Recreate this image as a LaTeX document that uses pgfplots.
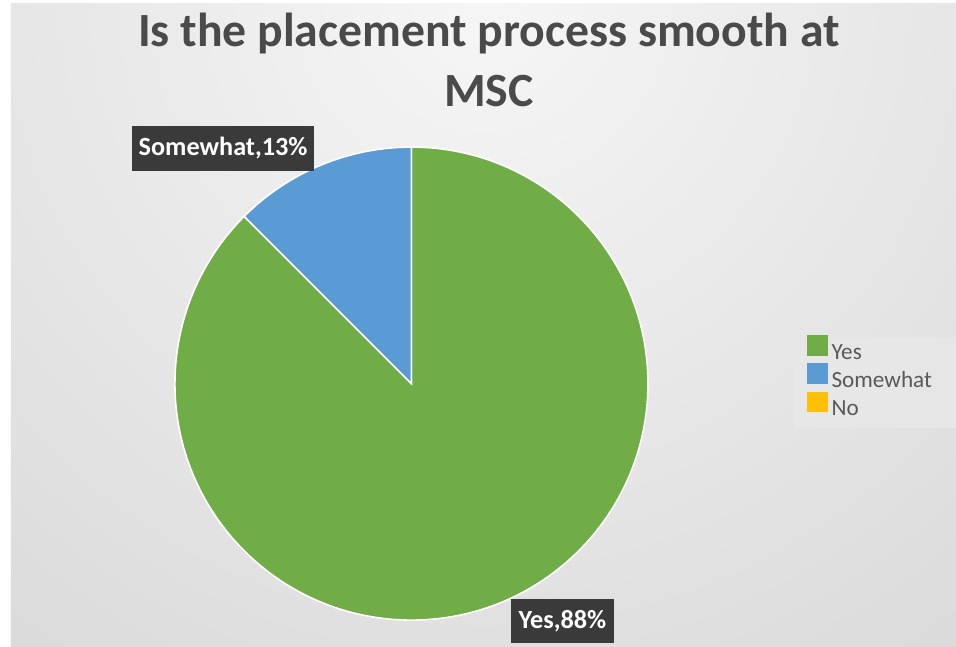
\documentclass[border=0pt]{standalone}
\usepackage{pgfplots}
\usepackage{pgfplotstable}
\pgfplotsset{compat=1.18}
\usepackage{fontspec}
\setmainfont{Carlito}

\definecolor{cYes}{HTML}{70AD47}
\definecolor{cSome}{HTML}{5B9BD5}
\definecolor{cNo}{HTML}{FFC000}
\definecolor{titlegray}{HTML}{4A4A4A}
\definecolor{legendtext}{HTML}{595959}
\definecolor{labelbox}{HTML}{3A3A3A}
\definecolor{legendbg}{HTML}{E8E8E8}
\definecolor{bgin}{HTML}{F6F6F6}
\definecolor{bgout}{HTML}{BCBCBC}

% survey answers, share in percent
\pgfplotstableread{
answer   share
Yes      87.5
Somewhat 12.5
No       0
}\answers

\begin{document}
\pgfplotstablegetelem{0}{share}\of\answers \let\yesval\pgfplotsretval
\pgfplotstablegetelem{1}{share}\of\answers \let\someval\pgfplotsretval
\pgfmathsetmacro{\angA}{90-3.6*\yesval}
\pgfmathsetmacro{\angB}{\angA-3.6*\someval}
\begin{tikzpicture}
\begin{axis}[
    x=0.75pt, y=0.75pt,
    xmin=0, xmax=956, ymin=0, ymax=651,
    hide axis,
    clip=false,
    legend cell align=left,
    legend style={
        at={(axis cs:806,314)}, anchor=north west,
        draw=none, fill=none,
        font=\fontsize{17.5}{20}\selectfont\color{legendtext},
        inner sep=0pt,
        nodes={inner sep=1.5pt},
        row sep=0pt,
    },
]
% background
\fill[white] (axis cs:0,0) rectangle (axis cs:956,651);
\begin{scope}
\clip (axis cs:5,0) rectangle (axis cs:956,647);
\shade[inner color=bgin, outer color=bgout] (axis cs:480,651) circle[radius=1275pt];
\end{scope}
\fill[legendbg, opacity=0.8] (axis cs:793,220) rectangle (axis cs:956,311);

% pie slices
\fill[cYes, draw=white, line width=1.2pt]
  (axis cs:408,265) -- ++(90:178.5pt) arc[start angle=90, end angle=\angA, radius=178.5pt] -- cycle;
\fill[cSome, draw=white, line width=1.2pt]
  (axis cs:408,265) -- ++(\angA:178.5pt) arc[start angle=\angA, end angle=\angB, radius=178.5pt] -- cycle;

% data labels
\node[fill=labelbox, text=white, font=\fontsize{19.8}{22}\selectfont\bfseries,
      minimum width=137pt, minimum height=34pt, inner sep=0pt]
  at (axis cs:218.5,501.5) {Somewhat,13\%};
\node[fill=labelbox, text=white, font=\fontsize{19.8}{22}\selectfont\bfseries,
      minimum width=78pt, minimum height=33pt, inner sep=0pt]
  at (axis cs:560,26) {Yes,88\%};

% title
\node[anchor=base, text=titlegray, font=\fontsize{36}{40}\selectfont\bfseries]
  at (axis cs:486,604) {Is the placement process smooth at};
\node[anchor=base, text=titlegray, font=\fontsize{36}{40}\selectfont\bfseries]
  at (axis cs:486,544) {MSC};

\addlegendimage{legend image code/.code={\fill[cYes] (0pt,-2pt) rectangle (15pt,13pt); \path (16.5pt,0pt);}}
\addlegendentry{Yes}
\addlegendimage{legend image code/.code={\fill[cSome] (0pt,-2pt) rectangle (15pt,13pt); \path (16.5pt,0pt);}}
\addlegendentry{Somewhat}
\addlegendimage{legend image code/.code={\fill[cNo] (0pt,-2pt) rectangle (15pt,13pt); \path (16.5pt,0pt);}}
\addlegendentry{No}
\end{axis}
\end{tikzpicture}
\end{document}
